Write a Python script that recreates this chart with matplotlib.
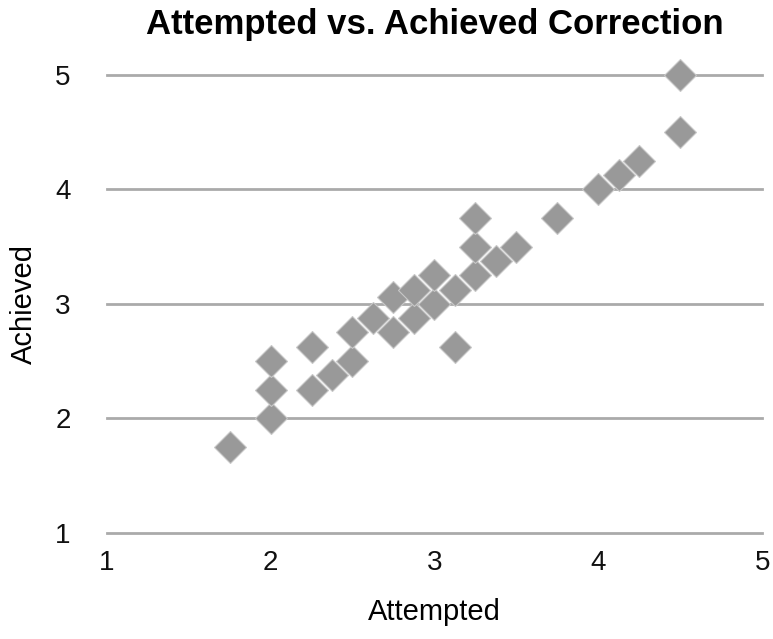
import matplotlib.pyplot as plt

attempted = [1.75, 2.0, 2.0, 2.0, 2.25, 2.25, 2.375, 2.5, 2.5, 2.625, 2.75, 2.75,
             2.875, 2.875, 3.0, 3.0, 3.125, 3.125, 3.25, 3.25, 3.25, 3.375, 3.5,
             3.75, 4.0, 4.125, 4.25, 4.5, 4.5]
achieved = [1.75, 2.0, 2.25, 2.5, 2.25, 2.625, 2.375, 2.5, 2.75, 2.875, 2.75, 3.0625,
            2.875, 3.125, 3.0, 3.25, 2.625, 3.125, 3.25, 3.5, 3.75, 3.375, 3.5,
            3.75, 4.0, 4.125, 4.25, 4.5, 5.0]
ticks = [1, 2, 3, 4, 5]

plt.rcParams['font.family'] = ['Liberation Sans', 'DejaVu Sans']

fig = plt.figure(figsize=(7.73, 6.39), dpi=100)
ax = fig.add_axes([0.138, 0.166, 0.848, 0.717])

ax.plot(attempted, achieved, linestyle='none', marker='D', markersize=16.5,
        color='#999999', markeredgecolor='#c8c8c8', markeredgewidth=0.8,
        clip_on=False, zorder=3)

ax.set_xlim(1, 5)
ax.set_ylim(1, 5)
ax.set_xticks(ticks)
ax.set_yticks(ticks)
for s in ax.spines.values():
    s.set_visible(False)
ax.yaxis.grid(True, color='#aaaaaa', linewidth=2)
for g in ax.get_ygridlines():
    g.set_clip_on(False)
ax.set_axisbelow(True)
ax.tick_params(length=0, labelsize=20, colors='#111111')
ax.tick_params(axis='y', pad=26)
ax.tick_params(axis='x', pad=12)

ax.set_xlabel('Attempted', fontsize=21, labelpad=16)
ax.set_ylabel('Achieved', fontsize=21, labelpad=12)
fig.suptitle('Attempted vs. Achieved Correction', fontsize=25, fontweight='bold',
             x=0.562, y=0.988)

fig.savefig('out.png')
